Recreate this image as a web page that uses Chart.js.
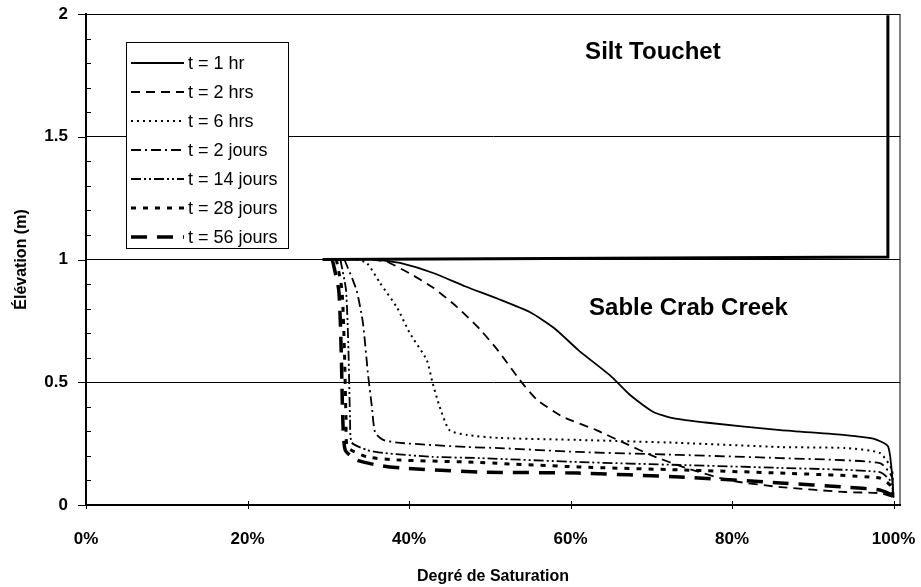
<!DOCTYPE html>
<html>
<head>
<meta charset="utf-8">
<script src="https://cdn.jsdelivr.net/npm/chart.js@4/dist/chart.umd.min.js"></script>
<style>
  body { margin: 0; background: #fff; }
  canvas { display: block; }
</style>
</head>
<body>
<canvas id="sat-chart" width="921" height="587"></canvas>
<script>
// Data: [degree of saturation %, elevation m]
const siltLine = [[29.3, 1.0], [99.3, 1.01], [99.3, 1.995]];
const t1hr = [[36, 1.0], [39, 0.985], [43, 0.945], [47, 0.89], [51, 0.84], [55, 0.785], [58, 0.72], [61, 0.63], [65, 0.525], [67.3, 0.45], [70.2, 0.38], [72.5, 0.355], [77, 0.335], [86, 0.305], [94, 0.285], [97.5, 0.27], [99.3, 0.24], [99.8, 0.13], [100, 0.03]];
const t2hrs = [[35.5, 1.0], [37.3, 0.99], [40, 0.945], [43, 0.885], [46, 0.805], [48.8, 0.715], [51, 0.63], [53.7, 0.51], [55.8, 0.43], [59, 0.36], [63.2, 0.305], [66.5, 0.255], [70.2, 0.2], [74.4, 0.15], [79.7, 0.1], [86, 0.073], [94, 0.053], [98.3, 0.048], [99.9, 0.033]];
const t6hrs = [[33.5, 1.0], [34.8, 0.985], [36.4, 0.905], [38.5, 0.805], [40.1, 0.7], [42.2, 0.59], [42.9, 0.5], [43.8, 0.4], [45, 0.305], [47.2, 0.285], [51.2, 0.273], [61, 0.265], [73.5, 0.253], [86, 0.236], [94, 0.232], [98.3, 0.212], [99.8, 0.143], [99.9, 0.06]];
const t2j = [[32, 1.0], [33.5, 0.875], [34.3, 0.74], [34.9, 0.54], [35.4, 0.4], [35.8, 0.295], [36.8, 0.265], [38.9, 0.253], [47.2, 0.236], [51.2, 0.232], [61, 0.216], [73.5, 0.204], [86, 0.191], [98.3, 0.171], [99.8, 0.114], [99.9, 0.05]];
const t14j = [[31.5, 1.0], [32.2, 0.875], [32.5, 0.63], [32.7, 0.35], [32.9, 0.255], [34.8, 0.224], [36.8, 0.212], [42.9, 0.196], [48.8, 0.191], [61, 0.175], [73.5, 0.163], [86, 0.151], [98.3, 0.134], [99.8, 0.09], [99.9, 0.033]];
const t28j = [[31, 1.0], [31.7, 0.875], [32, 0.63], [32.2, 0.35], [32.4, 0.236], [34.8, 0.196], [38.9, 0.183], [47.2, 0.175], [61, 0.155], [73.5, 0.143], [86, 0.13], [98.3, 0.11], [99.8, 0.073], [99.9, 0.03]];
const t56j = [[30.5, 1.0], [31.3, 0.875], [31.6, 0.63], [31.8, 0.35], [32.1, 0.224], [33.5, 0.183], [36, 0.163], [38.9, 0.151], [49, 0.134], [61, 0.13], [73.5, 0.114], [86, 0.09], [94, 0.073], [98.3, 0.061], [99.9, 0.04]];

const seriesLabels = ['t = 1 hr', 't = 2 hrs', 't = 6 hrs', 't = 2 jours', 't = 14 jours', 't = 28 jours', 't = 56 jours'];
const seriesData = [t1hr, t2hrs, t6hrs, t2j, t14j, t28j, t56j];
const xTicks = [0, 20, 40, 60, 80, 100];
const zoneLabels = [
  { text: 'Silt Touchet', x: 70.2, y: 1.845 },
  { text: 'Sable Crab Creek', x: 74.6, y: 0.80 }
];

// line styles per series
const styles = [
  { dash: [], width: 1.8 },
  { dash: [9, 6], width: 1.8 },
  { dash: [2, 4], width: 2 },
  { dash: [10, 4, 2, 4], width: 1.8 },
  { dash: [10, 3, 2, 3, 2, 3], width: 1.8 },
  { dash: [5, 7], width: 3 },
  { dash: [16, 10], width: 3.5 }
];

const toPoints = arr => arr.map(p => ({ x: p[0], y: p[1] }));

const datasets = seriesData.map((d, i) => ({
  label: seriesLabels[i],
  data: toPoints(d),
  borderColor: '#000',
  borderWidth: styles[i].width,
  borderDash: styles[i].dash,
  pointRadius: 0,
  tension: 0.2,
  fill: false
}));
datasets.push({
  label: '',
  data: toPoints(siltLine),
  borderColor: '#000',
  borderWidth: 3,
  pointRadius: 0,
  tension: 0,
  fill: false
});

const isMajorY = v => Math.abs(v * 2 - Math.round(v * 2)) < 1e-6;

// frame, tick marks, legend box and zone labels
const decorations = {
  id: 'decorations',
  beforeDatasetsDraw(chart) {
    const { ctx, chartArea: a, scales } = chart;
    ctx.save();
    ctx.strokeStyle = '#000';
    ctx.lineWidth = 1;
    ctx.strokeRect(a.left, a.top + 0.5, a.right - a.left, a.bottom - a.top);
    ctx.beginPath();
    scales.y.ticks.forEach(t => {
      const py = Math.round(scales.y.getPixelForValue(t.value)) + 0.5;
      if (isMajorY(t.value)) {
        ctx.moveTo(a.left - 8, py);
        ctx.lineTo(a.left, py);
      } else {
        ctx.moveTo(a.left, py);
        ctx.lineTo(a.left + 5, py);
      }
    });
    scales.x.ticks.forEach(t => {
      const px = Math.round(scales.x.getPixelForValue(t.value)) + 0.5;
      ctx.moveTo(px, a.bottom - 4);
      ctx.lineTo(px, a.bottom + 4);
    });
    ctx.stroke();
    ctx.restore();
  },
  afterDatasetsDraw(chart) {
    const { ctx, scales } = chart;
    ctx.save();
    // zone labels
    ctx.fillStyle = '#000';
    ctx.font = 'bold 24px "Liberation Sans", Arial, sans-serif';
    ctx.textAlign = 'center';
    ctx.textBaseline = 'middle';
    zoneLabels.forEach(l => {
      ctx.fillText(l.text, scales.x.getPixelForValue(l.x), scales.y.getPixelForValue(l.y));
    });
    // legend
    const box = { left: 126, top: 42, right: 288, bottom: 248 };
    ctx.fillStyle = '#fff';
    ctx.fillRect(box.left, box.top, box.right - box.left, box.bottom - box.top);
    ctx.strokeStyle = '#000';
    ctx.lineWidth = 1;
    ctx.setLineDash([]);
    ctx.strokeRect(box.left + 0.5, box.top + 0.5, box.right - box.left, box.bottom - box.top);
    ctx.font = '18px "Liberation Sans", Arial, sans-serif';
    ctx.textAlign = 'left';
    chart.data.datasets.forEach((ds, i) => {
      if (!ds.label) return;
      const y = 63 + i * 29;
      ctx.beginPath();
      ctx.setLineDash(ds.borderDash || []);
      ctx.lineWidth = ds.borderWidth;
      ctx.moveTo(131, y);
      ctx.lineTo(184, y);
      ctx.stroke();
      ctx.setLineDash([]);
      ctx.fillStyle = '#000';
      ctx.fillText(ds.label, 188, y + 1);
    });
    ctx.restore();
  }
};

Chart.defaults.font.family = '"Liberation Sans", Arial, sans-serif';
Chart.defaults.color = '#000';

const ctx = document.getElementById('sat-chart').getContext('2d');
window.satChart = new Chart(ctx, {
  type: 'line',
  data: { datasets: datasets },
  options: {
    responsive: false,
    animation: false,
    layout: { padding: { top: 14, right: 21, left: 0, bottom: 0 } },
    plugins: {
      legend: { display: false },
      tooltip: { enabled: false }
    },
    scales: {
      x: {
        type: 'linear',
        min: 0,
        max: 100.8,
        afterBuildTicks: scale => {
          scale.ticks = xTicks.map(v => ({ value: v }));
        },
        afterFit: scale => { scale.height = 82; },
        grid: {
          drawOnChartArea: false,
          drawTicks: true,
          tickLength: 24,
          tickColor: 'rgba(0,0,0,0)'
        },
        border: { color: '#000', width: 2 },
        ticks: {
          padding: 0,
          maxRotation: 0,
          font: { size: 17, weight: 'bold' },
          callback: v => v + '%'
        },
        title: {
          display: true,
          text: 'Degré de Saturation',
          font: { size: 16, weight: 'bold' },
          padding: { top: 0, bottom: 1 }
        }
      },
      y: {
        type: 'linear',
        min: 0,
        max: 2,
        afterFit: scale => { scale.width = 86; },
        grid: {
          color: c => (isMajorY(c.tick.value) ? '#000' : 'rgba(0,0,0,0)'),
          tickColor: 'rgba(0,0,0,0)',
          lineWidth: 1,
          tickLength: 18
        },
        border: { color: '#000', width: 2 },
        ticks: {
          stepSize: 0.1,
          autoSkip: false,
          padding: 0,
          font: { size: 17, weight: 'bold' },
          callback: v => (isMajorY(v) ? String(Math.round(v * 10) / 10) : '')
        },
        title: {
          display: true,
          text: 'Élévation (m)',
          font: { size: 16, weight: 'bold' },
          padding: { top: 12, bottom: 0 }
        }
      }
    }
  },
  plugins: [decorations]
});
</script>
</body>
</html>
